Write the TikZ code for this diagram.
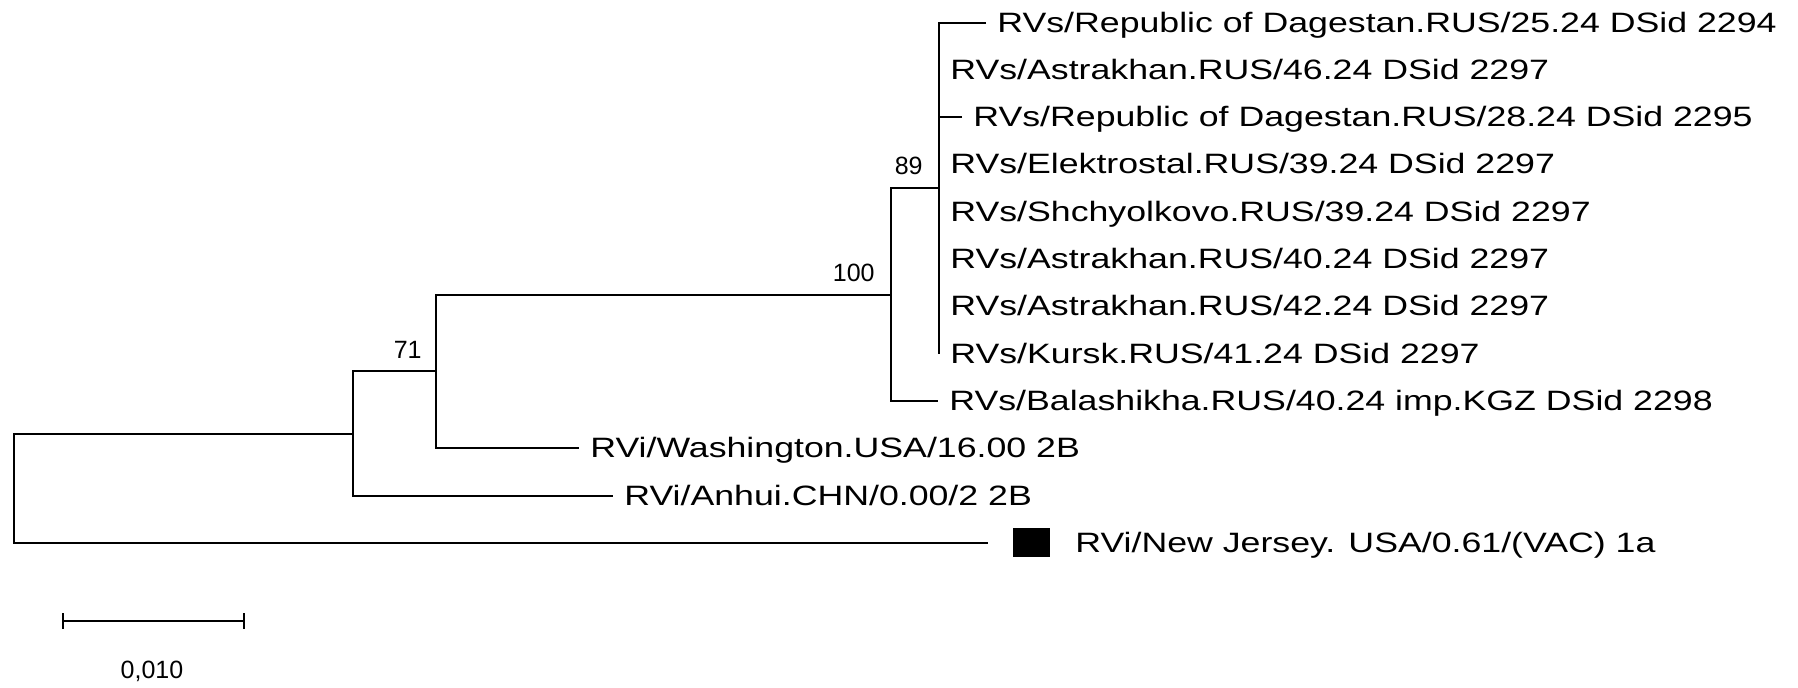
\documentclass[tikz,border=0pt]{standalone}
\usepackage{fontspec}
\setmainfont{Liberation Sans}
\usepackage{graphicx}
\newcommand\tipstretch[1]{\scalebox{1.275}[1]{#1}}
\begin{document}
\begin{tikzpicture}[x=0.5pt,y=-0.5pt,
  branch/.style={line width=1pt},
  tip/.style={anchor=west, inner xsep=5.5pt, inner ysep=0pt, text height=10pt, text depth=0pt, font=\fontsize{14}{16}\selectfont},
  boot/.style={anchor=south east, inner sep=0pt, font=\fontsize{12.5}{14}\selectfont}]
\useasboundingbox[fill=white] (0,0) rectangle (1798,688);

\coordinate (n89) at (939,188.5);
\coordinate (n100) at (891,295);
\coordinate (n71) at (436,371.5);
\coordinate (nA) at (353,433.75);
\coordinate (root) at (14,488);

\node[tip] (t1) at (986,23) {\tipstretch{RVs/Republic of Dagestan.RUS/25.24 DSid 2294}};
\node[tip] (t2) at (939,70) {\tipstretch{RVs/Astrakhan.RUS/46.24 DSid 2297}};
\node[tip] (t3) at (962,117) {\tipstretch{RVs/Republic of Dagestan.RUS/28.24 DSid 2295}};
\node[tip] (t4) at (939,164) {\tipstretch{RVs/Elektrostal.RUS/39.24 DSid 2297}};
\node[tip] (t5) at (939,212) {\tipstretch{RVs/Shchyolkovo.RUS/39.24 DSid 2297}};
\node[tip] (t6) at (939,259) {\tipstretch{RVs/Astrakhan.RUS/40.24 DSid 2297}};
\node[tip] (t7) at (939,306) {\tipstretch{RVs/Astrakhan.RUS/42.24 DSid 2297}};
\node[tip] (t8) at (939,354) {\tipstretch{RVs/Kursk.RUS/41.24 DSid 2297}};
\node[tip] (t9) at (938,401) {\tipstretch{RVs/Balashikha.RUS/40.24 imp.KGZ DSid 2298}};
\node[tip] (t10) at (579,448) {\tipstretch{RVi/Washington.USA/16.00 2B}};
\node[tip] (t11) at (613,496) {\tipstretch{RVi/Anhui.CHN/0.00/2 2B}};
\coordinate (e12) at (988,543);
\node[fill=black, minimum width=18.5pt, minimum height=14.5pt, inner sep=0pt] (sq) at (1031.5,542.5) {};
\node[tip] (t12) at (1064,543) {\tipstretch{RVi/New Jersey. USA/0.61/(VAC) 1a}};

\draw[branch] (t1.west) -| (t8.west -| n89);
\draw[branch] (t3.west) -- (t3.west -| n89);
\draw[branch] (n89) -| (t9.west -| n100) -- (t9.west);
\draw[branch] (n100) -| (t10.west -| n71) -- (t10.west);
\draw[branch] (n71) -| (t11.west -| nA) -- (t11.west);
\draw[branch] (nA) -| (e12 -| root) -- (e12);

\node[boot] (b89) at ([shift={(-16,-13)}]n89) {89};
\node[boot] (b100) at ([shift={(-16,-13)}]n100) {100};
\node[boot] (b71) at ([shift={(-14,-13)}]n71) {71};

\coordinate (sbl) at (63,621.5);
\coordinate (sbr) at (244,621.5);
\draw[branch] (sbl) -- (sbr);
\draw[branch] ([yshift=4pt]sbl) -- ([yshift=-4pt]sbl);
\draw[branch] ([yshift=4pt]sbr) -- ([yshift=-4pt]sbr);
\node[font=\fontsize{12.5}{14}\selectfont] (sblabel) at (152,671) {0,010};
\end{tikzpicture}
\end{document}
